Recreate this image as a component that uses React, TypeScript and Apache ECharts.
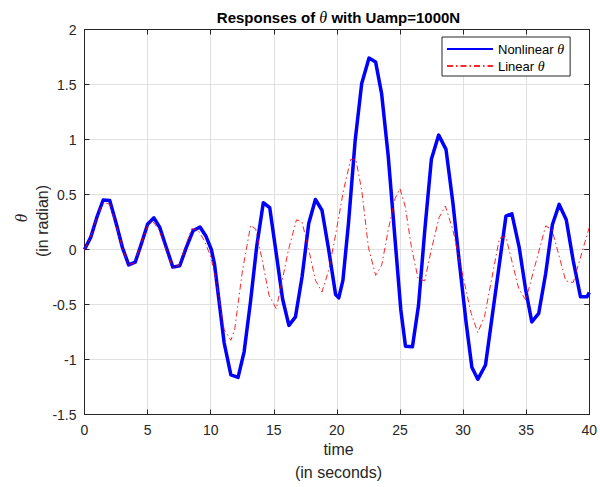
import React, { useEffect, useRef } from "react";
import * as echarts from "echarts";

// Nonlinear theta response (vertices)
const nonlinearTime = [0, 0.49, 1.0, 1.48, 2.0, 2.55, 3.0, 3.5, 4.02, 4.5, 5.0, 5.5, 5.97, 6.45, 7.0, 7.55, 8.07, 8.6, 9.15, 9.63, 10.05, 10.3, 11.07, 11.6, 12.17, 12.65, 13.15, 13.65, 14.17, 14.68, 15.2, 15.7, 16.2, 16.72, 17.24, 17.77, 18.3, 18.82, 19.35, 19.9, 20.15, 20.48, 20.92, 21.45, 21.97, 22.55, 23.07, 23.55, 24.07, 25.07, 25.44, 25.99, 26.47, 26.98, 27.49, 28.07, 28.65, 29.2, 29.72, 30.25, 30.7, 31.17, 31.78, 33.4, 33.87, 34.45, 34.97, 35.45, 36.0, 36.55, 37.08, 37.62, 38.18, 38.73, 39.31, 39.83, 40];
const nonlinearTheta = [0, 0.11, 0.3, 0.45, 0.445, 0.22, 0.02, -0.14, -0.115, 0.05, 0.23, 0.288, 0.2, 0.03, -0.16, -0.148, 0.02, 0.17, 0.205, 0.12, 0.0, -0.13, -0.85, -1.14, -1.163, -0.93, -0.48, 0.03, 0.425, 0.38, -0.04, -0.45, -0.69, -0.612, -0.25, 0.236, 0.455, 0.357, 0.0, -0.41, -0.44, -0.28, 0.236, 0.99, 1.51, 1.74, 1.705, 1.415, 0.85, -0.55, -0.88, -0.885, -0.51, 0.19, 0.82, 1.04, 0.91, 0.42, -0.13, -0.67, -1.07, -1.18, -1.05, 0.303, 0.325, 0.02, -0.37, -0.658, -0.58, -0.218, 0.225, 0.41, 0.27, -0.1, -0.43, -0.43, -0.39];

// Linear theta response
const linearTime = [0, 0.5, 1.0, 1.5, 2.0, 2.5, 3.0, 3.45, 3.95, 4.5, 5.0, 5.35, 5.9, 6.45, 7.0, 7.5, 8.0, 8.5, 9.0, 9.5, 10.02, 10.42, 11.07, 11.6, 11.9, 12.52, 13.17, 13.57, 14.09, 14.62, 15.2, 15.67, 16.17, 16.8, 17.24, 17.77, 18.3, 18.82, 19.35, 19.87, 20.53, 21.1, 21.5, 21.97, 22.5, 23.07, 23.55, 24.07, 24.6, 25.0, 25.42, 25.91, 26.44, 26.96, 27.49, 28.1, 28.6, 29.2, 29.72, 30.64, 31.17, 31.7, 32.88, 33.38, 34.4, 34.97, 36.55, 37.05, 38.14, 38.73, 40.0];
const linearTheta = [0, 0.12, 0.3, 0.43, 0.41, 0.22, 0.02, -0.14, -0.12, 0.06, 0.22, 0.265, 0.18, 0.0, -0.165, -0.14, 0.03, 0.19, 0.175, 0.08, -0.07, -0.28, -0.73, -0.825, -0.73, -0.19, 0.22, 0.185, -0.1, -0.415, -0.54, -0.28, 0.0, 0.27, 0.25, 0.0, -0.28, -0.386, -0.19, 0.115, 0.54, 0.82, 0.82, 0.54, 0.02, -0.235, -0.145, 0.175, 0.46, 0.553, 0.39, 0.02, -0.264, -0.285, 0.0, 0.29, 0.395, 0.175, -0.1, -0.58, -0.755, -0.61, 0.1, 0.12, -0.35, -0.46, 0.215, 0.18, -0.285, -0.3, 0.2];

const seriesNames = ["Nonlinear θ", "Linear θ"];

const FONT = "'Liberation Sans', Arial, sans-serif";
const SERIF = "'Liberation Serif', 'DejaVu Serif', serif";
const INK = "#262626";

const GRID = { left: 84.5, top: 29.5, width: 508, height: 385 };

export default function App() {
  const ref = useRef<HTMLDivElement>(null);

  useEffect(() => {
    if (!ref.current) return;
    const chart = echarts.init(ref.current, undefined, { renderer: "svg" });
    const zip = (t: number[], v: number[]) => t.map((x, i) => [x, v[i]]);
    const cx = GRID.left + GRID.width / 2;
    const cy = GRID.top + GRID.height / 2;

    const axisCommon = {
      axisLine: { show: true, onZero: false, lineStyle: { color: INK, width: 1 } },
      axisTick: { show: true, inside: true, length: 5, lineStyle: { color: INK, width: 1 } },
    };

    chart.setOption({
      animation: false,
      backgroundColor: "#ffffff",
      textStyle: { fontFamily: FONT },
      grid: { ...GRID, containLabel: false },
      legend: {
        data: seriesNames,
        orient: "vertical",
        left: 442,
        top: 37,
        itemWidth: 46,
        itemHeight: 12,
        itemGap: 3,
        padding: [5, 6, 3, 4],
        backgroundColor: "#ffffff",
        borderColor: INK,
        borderWidth: 1,
        borderRadius: 0,
        itemStyle: { opacity: 0, color: "transparent", borderColor: "transparent", borderWidth: 0 },
        textStyle: {
          fontFamily: FONT,
          fontSize: 13,
          color: "#000",
          rich: { t: { fontFamily: SERIF, fontStyle: "italic", fontSize: 14 } },
        },
        formatter: (name: string) => name.replace("θ", "{t|θ}"),
        z: 10,
      },
      xAxis: [
        {
          type: "value",
          min: 0,
          max: 40,
          interval: 5,
          position: "bottom",
          ...axisCommon,
          axisLabel: { color: INK, fontSize: 14, fontFamily: FONT, margin: 8 },
          splitLine: { show: true, lineStyle: { color: "#e0e0e0", width: 1 } },
        },
        {
          type: "value",
          min: 0,
          max: 40,
          interval: 5,
          position: "top",
          ...axisCommon,
          axisLabel: { show: false },
          splitLine: { show: false },
        },
      ],
      yAxis: [
        {
          type: "value",
          min: -1.5,
          max: 2,
          interval: 0.5,
          position: "left",
          ...axisCommon,
          axisLabel: { color: INK, fontSize: 14, fontFamily: FONT, margin: 8 },
          splitLine: { show: true, lineStyle: { color: "#e0e0e0", width: 1 } },
        },
        {
          type: "value",
          min: -1.5,
          max: 2,
          interval: 0.5,
          position: "right",
          ...axisCommon,
          axisLabel: { show: false },
          splitLine: { show: false },
        },
      ],
      series: [
        {
          name: seriesNames[0],
          type: "line",
          data: zip(nonlinearTime, nonlinearTheta),
          showSymbol: false,
          symbol: "circle",
          lineStyle: { color: "#0000ff", width: 3.5, join: "round" },
          itemStyle: { color: "#0000ff" },
          z: 3,
        },
        {
          name: seriesNames[1],
          type: "line",
          data: zip(linearTime, linearTheta),
          showSymbol: false,
          symbol: "circle",
          lineStyle: { color: "rgba(255,0,0,0.85)", width: 1, type: [6, 3, 1.5, 3] },
          itemStyle: { color: "rgba(255,0,0,0.85)" },
          z: 4,
        },
      ],
      graphic: [
        {
          type: "text",
          x: cx,
          y: 17,
          style: {
            text: "{b|Responses of }{t|θ}{b| with Uamp=1000N}",
            align: "center",
            verticalAlign: "middle",
            rich: {
              b: { fontFamily: FONT, fontWeight: "bold", fontSize: 15, fill: "#000" },
              t: { fontFamily: SERIF, fontStyle: "italic", fontSize: 16, fill: "#000" },
            },
          },
        },
        {
          type: "text",
          x: cx,
          y: 449,
          style: { text: "time", align: "center", verticalAlign: "middle", font: `16px ${FONT}`, fill: INK },
        },
        {
          type: "text",
          x: cx,
          y: 472,
          style: { text: "(in seconds)", align: "center", verticalAlign: "middle", font: `16px ${FONT}`, fill: INK },
        },
        {
          type: "text",
          x: 21,
          y: cy - 4,
          rotation: Math.PI / 2,
          style: { text: "θ", align: "center", verticalAlign: "middle", font: `italic 17px ${SERIF}`, fill: INK },
        },
        {
          type: "text",
          x: 42,
          y: cy - 1,
          rotation: Math.PI / 2,
          style: { text: "(in radian)", align: "center", verticalAlign: "middle", font: `16px ${FONT}`, fill: INK },
        },
      ],
    });
    return () => chart.dispose();
  }, []);

  return (
    <div
      ref={ref}
      style={{ position: "fixed", left: 0, top: 0, width: 600, height: 487, background: "#fff" }}
    />
  );
}
